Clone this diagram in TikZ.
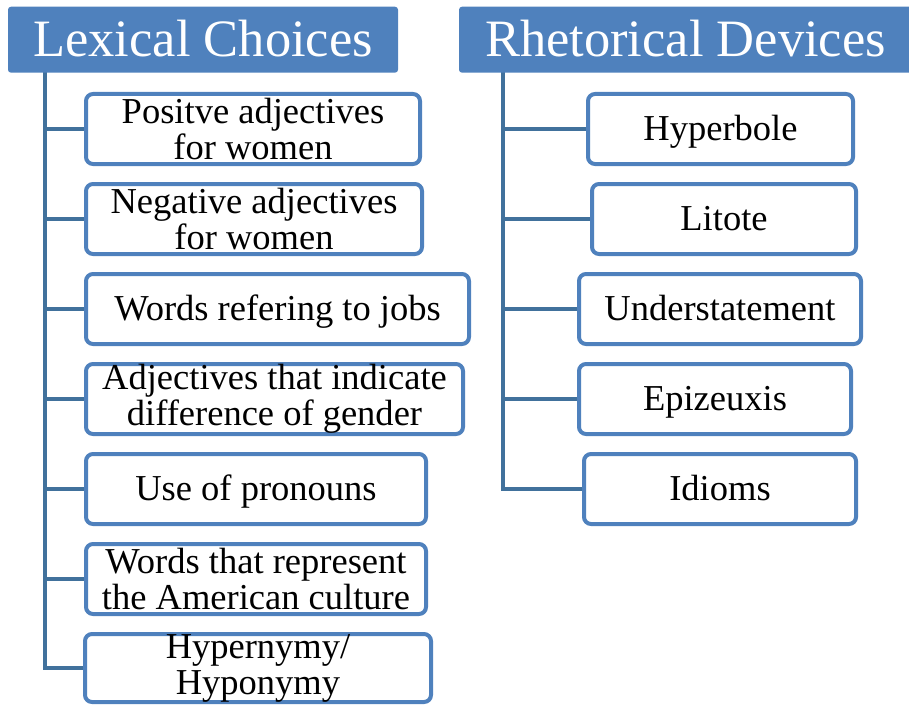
\documentclass[tikz,border=0pt]{standalone}
\usepackage{fontspec}
\setmainfont{Liberation Serif}
\newfontfamily\boxfont{Liberation Serif}
\newfontfamily\hdrfont{Liberation Serif}
\definecolor{accent}{HTML}{4F81BD}
\definecolor{linkc}{HTML}{41719C}
\pgfdeclarelayer{background}
\pgfsetlayers{background,main}
\begin{document}
\begin{tikzpicture}[x=1pt,y=-1pt,
  hdr/.style={fill=accent, rounded corners=3pt, text=white, font=\hdrfont\fontsize{52.5}{56}\selectfont, inner sep=0pt, minimum height=66pt, text height=36pt, text depth=2pt},
  item/.style={draw=accent, line width=4pt, fill=white, rounded corners=7pt, font=\boxfont\fontsize{36.5}{36}\selectfont, align=center, inner sep=0pt, minimum height=70pt},
  oneline/.style={text height=26pt, text depth=4pt},
  conn/.style={draw=linkc, line width=4.5pt}]
\useasboundingbox (0,0) rectangle (909,706);

% headers
\node[hdr, minimum width=390pt] (hL) at (203,39.7) {Lexical Choices};
\node[hdr, minimum width=453pt] (hR) at (685.5,39.7) {Rhetorical Devices};

% left items
\node[item, minimum width=334pt] (l1) at (253,129) {Positve adjectives\\for women};
\node[item, minimum width=336pt] (l2) at (254,219) {Negative adjectives\\for women};
\node[item, oneline, minimum width=383pt] (l3) at (277.5,309) {Words refering to jobs};
\node[item, minimum width=377pt] (l4) at (274.5,399) {Adjectives that indicate\\difference of gender};
\node[item, oneline, minimum width=340pt] (l5) at (256,489) {Use of pronouns};
\node[item, minimum width=340pt] (l6) at (256,579) {Words that represent\\the American culture};
\node[item, minimum width=346pt, minimum height=68pt] (l7) at (258,668) {Hypernymy/\\Hyponymy};

% right items
\node[item, oneline, minimum width=265pt] (r1) at (720.5,129) {Hyperbole};
\node[item, oneline, minimum width=264pt] (r2) at (724,219) {Litote};
\node[item, oneline, minimum width=282pt] (r3) at (720,309) {Understatement};
\node[item, oneline, minimum width=272pt] (r4) at (715,399) {Epizeuxis};
\node[item, oneline, minimum width=272pt] (r5) at (720,489) {Idioms};

\coordinate (tL) at (45,72);
\coordinate (tR) at (503,72);

\begin{pgfonlayer}{background}
\foreach \i in {1,...,7} \draw[conn] (tL) |- (l\i.west);
\foreach \i in {1,...,5} \draw[conn] (tR) |- (r\i.west);
\end{pgfonlayer}
\end{tikzpicture}
\end{document}
